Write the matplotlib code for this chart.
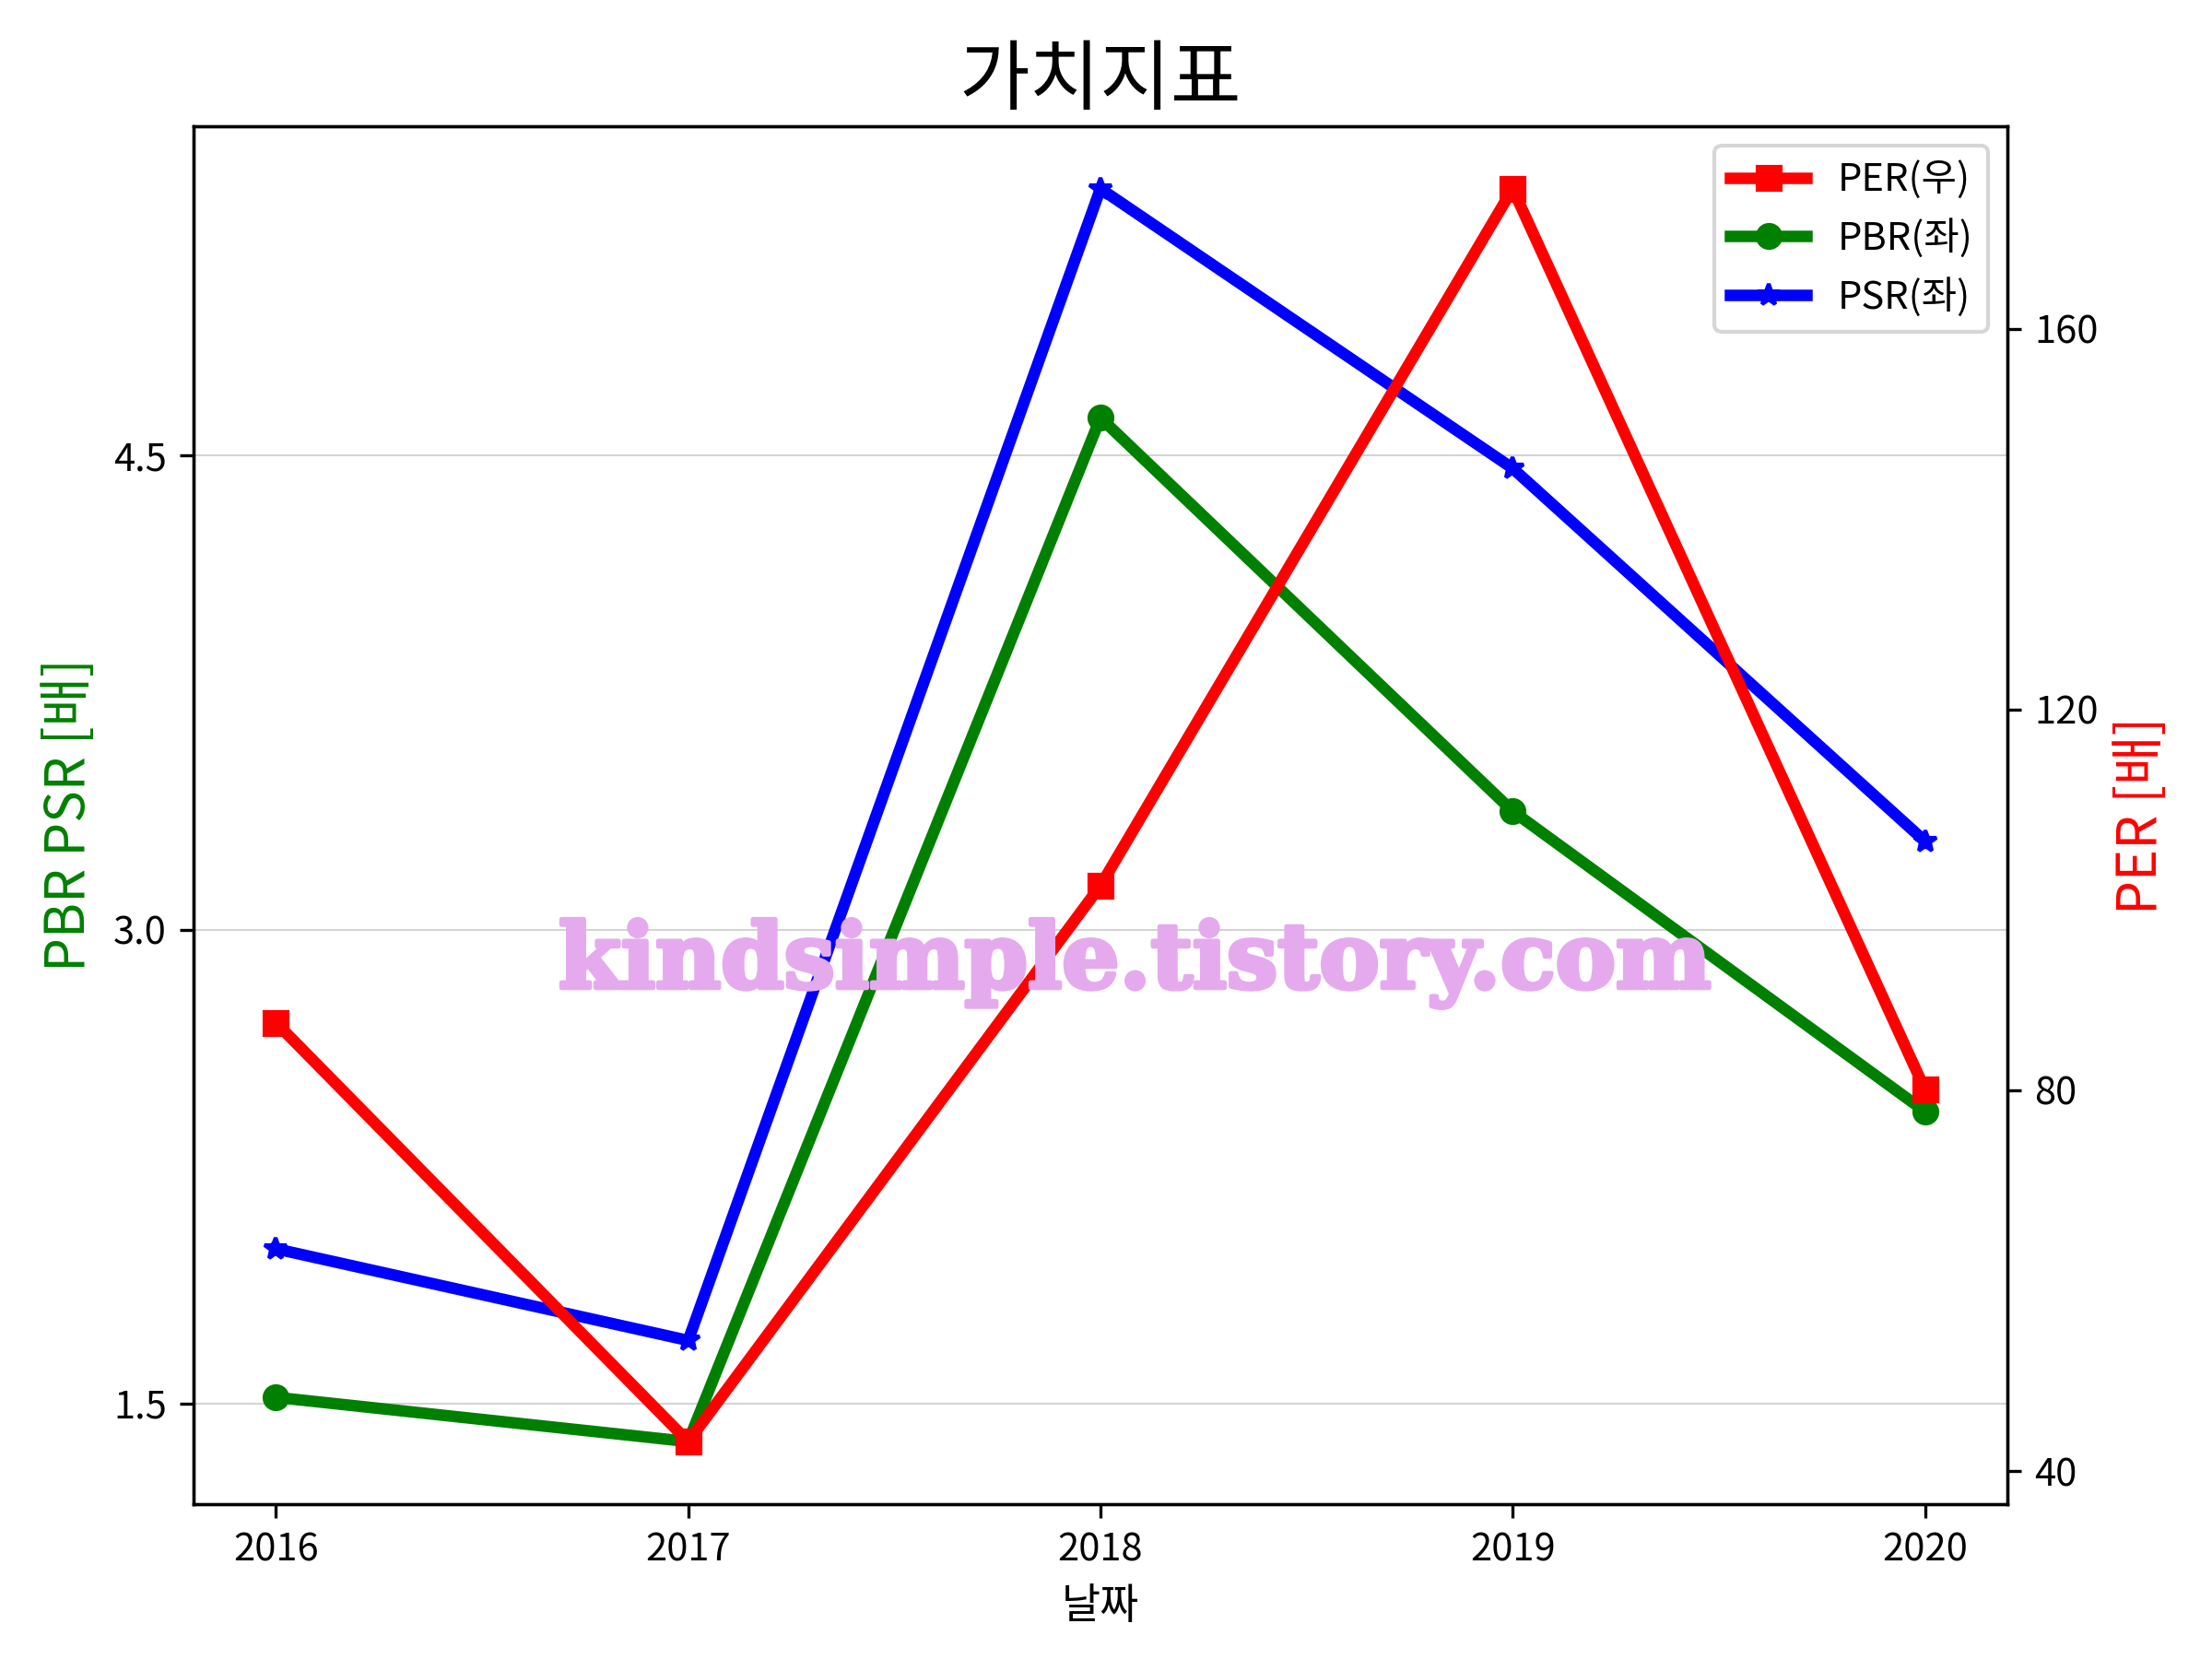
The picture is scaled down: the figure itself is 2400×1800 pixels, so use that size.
import matplotlib.pyplot as plt

plt.rcParams['font.family'] = ['Noto Sans CJK KR', 'DejaVu Sans']
plt.rcParams['axes.unicode_minus'] = False

years = [2016, 2017, 2018, 2019, 2020]
per = [87.1, 43.1, 101.5, 174.7, 80.1]
pbr = [1.52, 1.38, 4.62, 3.375, 2.425]
psr = [1.99, 1.70, 5.345, 4.46, 3.28]

fig, ax = plt.subplots(figsize=(8, 6), dpi=300)
fig.subplots_adjust(left=0.0875, right=0.9075, top=0.924, bottom=0.0933)

# 좌측: PBR, PSR
l_pbr, = ax.plot(years, pbr, color='green', marker='o', linewidth=3, label='PBR(좌)')
l_psr, = ax.plot(years, psr, color='blue', marker='*', linewidth=3, label='PSR(좌)')
ax.set_yticks([1.5, 3.0, 4.5])
ax.set_xticks(years)
ax.grid(axis='y', color='lightgray', linewidth=0.5)
ax.set_axisbelow(True)
ax.set_xlabel('날짜', fontsize=11)
ax.set_ylabel('PBR PSR [배]', color='green', fontsize=14)

# 우측: PER
ax2 = ax.twinx()
l_per, = ax2.plot(years, per, color='red', marker='s', linewidth=3, label='PER(우)')
ax2.set_yticks([40, 80, 120, 160])
ax2.set_ylabel('PER [배]', color='red', fontsize=14)

ax2.legend(handles=[l_per, l_pbr, l_psr], loc='upper right')
ax.set_title('가치지표', fontsize=20)

# 워터마크
fig.text(0.513, 0.419, 'kindsimple.tistory.com', family='DejaVu Serif', fontweight='heavy',
         fontsize=23.5, color='#E5AAEE', ha='center', va='center', zorder=10,
         path_effects=[])
t = fig.texts[-1]
import matplotlib.patheffects as pe
t.set_path_effects([pe.withStroke(linewidth=1.2, foreground='#E5AAEE')])

plt.savefig('out.png')
